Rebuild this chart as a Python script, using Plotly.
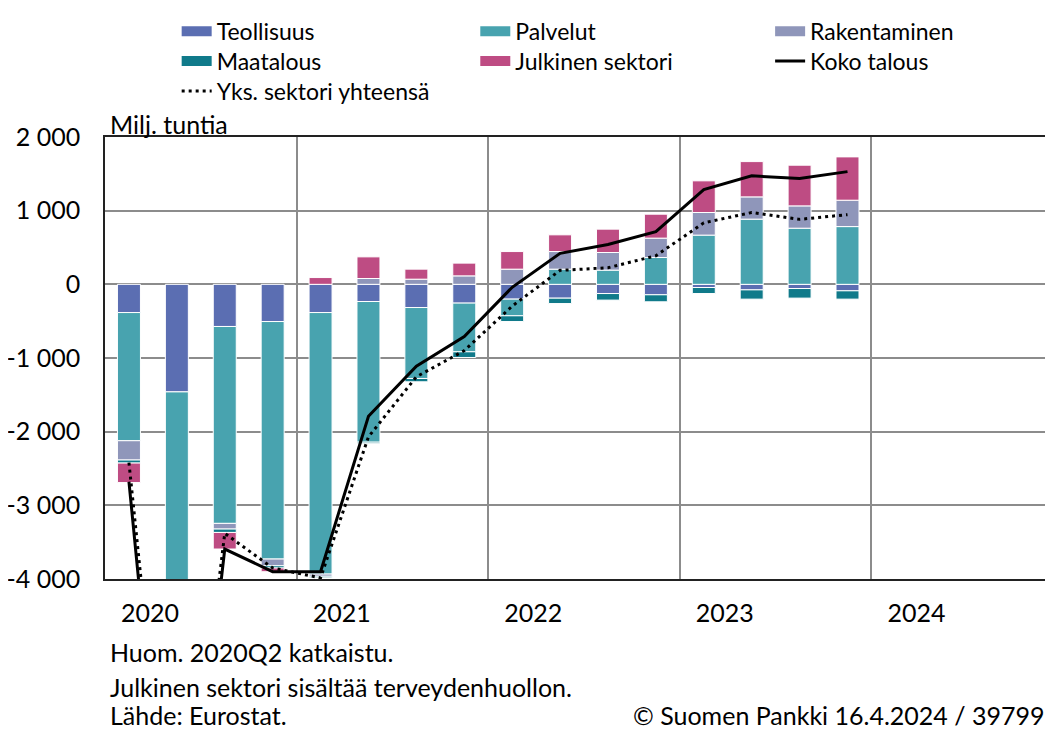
import plotly.graph_objects as go

quarters = ["2020Q1", "2020Q2", "2020Q3", "2020Q4",
            "2021Q1", "2021Q2", "2021Q3", "2021Q4",
            "2022Q1", "2022Q2", "2022Q3", "2022Q4",
            "2023Q1", "2023Q2", "2023Q3", "2023Q4"]
years = ["2020", "2021", "2022", "2023", "2024"]

# milj. tuntia, 2020Q2 is cut off at -4000 in the original
teollisuus = [-383, -1460, -572, -505, -383, -233, -315, -255,
              -201, -188, -125, -142, -43, -75, -57, -88]
palvelut = [-1740, -6600, -2673, -3224, -3550, -1910, -963, -661,
            -226, 206, 193, 364, 668, 885, 762, 784]
rakentaminen = [-262, -500, -77, -91, -30, 79, 70, 115,
                206, 239, 239, 263, 307, 302, 303, 358]
maatalous = [-41, -60, -46, -31, -20, -20, -45, -77,
             -78, -73, -89, -95, -82, -126, -130, -113]
julkinen = [-265, -700, -225, -50, 92, 294, 136, 173,
            239, 227, 317, 325, 430, 479, 552, 588]
koko_talous = [-2680, -9300, -3593, -3900, -3900, -1790, -1110, -708,
               -40, 420, 540, 716, 1286, 1473, 1436, 1530]
yks_sektori = [-2420, -8700, -3380, -3850, -3985, -2070, -1255, -900,
               -295, 190, 225, 388, 835, 975, 882, 946]

y_ticks = [-4000, -3000, -2000, -1000, 0, 1000, 2000]
y_ticktext = ["-4 000", "-3 000", "-2 000", "-1 000", "0", "1 000", "2 000"]

colors = {'Teollisuus': '#5B6EB2', 'Palvelut': '#48A3AF',
          'Rakentaminen': '#8F96BA', 'Maatalous': '#107A8A',
          'Julkinen sektori': '#BE4C83'}

FONT = "Lato"
FS = 25
x = list(range(len(quarters)))

fig = go.Figure()

bars = [('Teollisuus', teollisuus), ('Palvelut', palvelut),
        ('Rakentaminen', rakentaminen), ('Maatalous', maatalous),
        ('Julkinen sektori', julkinen)]
for name, vals in bars:
    fig.add_trace(go.Bar(x=x, y=vals, name=name, legendgroup=name,
                         showlegend=False, marker_color=colors[name],
                         marker_line=dict(color='white', width=1)))

fig.add_trace(go.Scatter(x=x, y=koko_talous, name='Koko talous', mode='lines',
                         line=dict(color='black', width=3), showlegend=False,
                         legendgroup='Koko talous'))
fig.add_trace(go.Scatter(x=x, y=yks_sektori, name='Yks. sektori yhteensä',
                         mode='lines', showlegend=False,
                         line=dict(color='black', width=3, dash='3px,4px'),
                         legendgroup='Yks. sektori yhteensä'))

# legend proxies: one small legend box per entry -> Excel-like 3 column grid
legend_items = [('Teollisuus', colors['Teollisuus'], 14, 'solid'),
                ('Palvelut', colors['Palvelut'], 14, 'solid'),
                ('Rakentaminen', colors['Rakentaminen'], 14, 'solid'),
                ('Maatalous', colors['Maatalous'], 14, 'solid'),
                ('Julkinen sektori', colors['Julkinen sektori'], 14, 'solid'),
                ('Koko talous', 'black', 3, 'solid'),
                ('Yks. sektori yhteensä', 'black', 3, '3px,4px')]
col_x = [0.0756, 0.3906, 0.7016]
# top row kept just inside the figure so it does not push the top margin
row_y = [1.288, 1.2204, 1.1525]

legends = {}
for i, (name, col, w, dash) in enumerate(legend_items):
    key = 'legend' if i == 0 else f'legend{i + 1}'
    legends[key] = dict(x=col_x[i % 3], y=row_y[i // 3], xanchor='left',
                        yanchor='top', orientation='v', tracegroupgap=0,
                        font=dict(size=23), bgcolor='rgba(0,0,0,0)')
    fig.add_trace(go.Scatter(x=[None], y=[None], mode='lines', name=name,
                             legendgroup=name, legend=key,
                             line=dict(color=col, width=w, dash=dash)))

# page has an 8px body margin, so the figure is 8px smaller than the window
fig.update_layout(
    width=1045, height=723,
    margin=dict(l=97, r=0, t=129, b=152),
    barmode='relative', bargap=0.52,
    plot_bgcolor='white', paper_bgcolor='white',
    font=dict(family=FONT, size=FS, color='black'),
    annotations=[
        dict(text='Milj. tuntia', x=0.003, y=1.029, xref='paper', yref='paper',
             xanchor='left', yanchor='middle', showarrow=False),
        dict(text='Huom. 2020Q2 katkaistu.', x=0.003, y=-0.165, xref='paper',
             yref='paper', xanchor='left', yanchor='middle', showarrow=False),
        dict(text='Julkinen sektori sisältää terveydenhuollon.', x=0.003, y=-0.245,
             xref='paper', yref='paper', xanchor='left', yanchor='middle',
             showarrow=False),
        dict(text='Lähde: Eurostat.', x=0.003, y=-0.308, xref='paper', yref='paper',
             xanchor='left', yanchor='middle', showarrow=False),
        dict(text='© Suomen Pankki 16.4.2024 / 39799', x=0.993, y=-0.308,
             xref='paper', yref='paper', xanchor='right', yanchor='middle',
             showarrow=False),
    ],
    **legends,
)

fig.update_xaxes(range=[-0.5, 19.29], tickmode='array',
                 tickvals=[0.44 + 4 * i for i in range(len(years))], ticktext=years,
                 showgrid=False, zeroline=False, ticks='', ticklabelstandoff=11,
                 automargin=False,
                 showline=True, mirror=True, linecolor='#222222', linewidth=1.5,
                 minor=dict(tick0=3.5, dtick=4, showgrid=True,
                            gridcolor='#8c8c8c', gridwidth=1.5))
fig.update_yaxes(range=[-4000, 2000], tickmode='array', tickvals=y_ticks,
                 ticktext=y_ticktext, showgrid=True, gridcolor='#8c8c8c',
                 gridwidth=1.5, zeroline=False, ticks='', ticklabelstandoff=18,
                 automargin=False,
                 showline=True, linecolor='#222222', linewidth=1.5)

fig.write_html("out.html")
